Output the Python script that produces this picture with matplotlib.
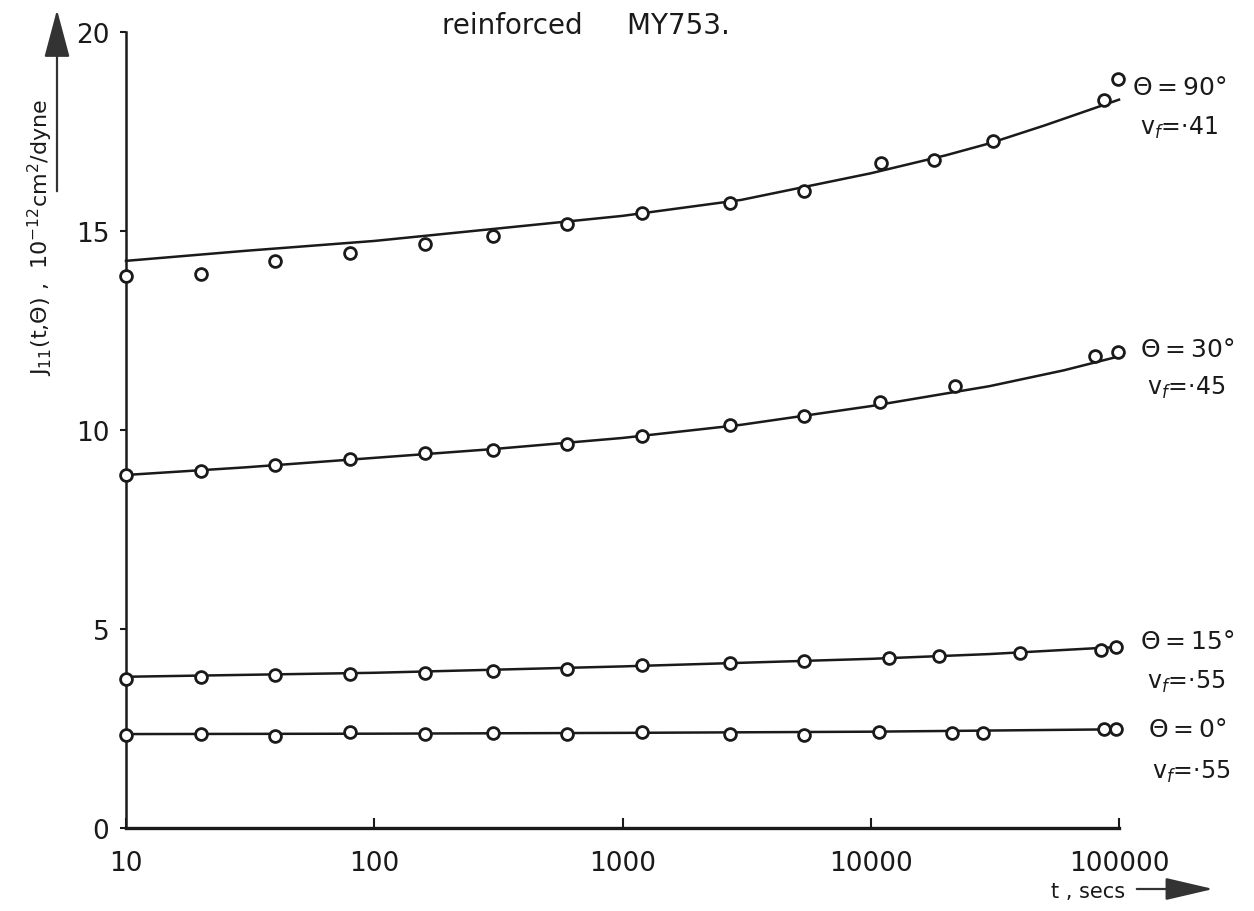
import matplotlib
matplotlib.use("Agg")
import matplotlib.pyplot as plt
from matplotlib.ticker import FixedLocator, FixedFormatter, NullLocator

W, H = 1254, 912

# ---- data ----
t_90 = [10, 20, 40, 80, 160, 300, 600, 1200, 2700, 5400, 11000, 18000, 31000, 87000, 99000]
J_90 = [13.86, 13.92, 14.25, 14.44, 14.67, 14.87, 15.18, 15.45, 15.70, 16.00, 16.72, 16.79, 17.27, 18.29, 18.82]
fit_t_90 = [10, 30, 100, 300, 1000, 3000, 10000, 20000, 30000, 50000, 100000]
fit_J_90 = [14.25, 14.50, 14.75, 15.05, 15.38, 15.78, 16.45, 16.90, 17.20, 17.65, 18.30]

t_30 = [10, 20, 40, 80, 160, 300, 600, 1200, 2700, 5400, 10900, 21800, 80000, 99000]
J_30 = [8.87, 8.96, 9.13, 9.27, 9.41, 9.50, 9.66, 9.84, 10.12, 10.34, 10.71, 11.10, 11.87, 11.97]
fit_t_30 = [10, 30, 100, 300, 1000, 3000, 10000, 30000, 60000, 100000]
fit_J_30 = [8.87, 9.06, 9.30, 9.52, 9.80, 10.13, 10.60, 11.10, 11.50, 11.85]

t_15 = [10, 20, 40, 80, 160, 300, 600, 1200, 2700, 5400, 11800, 18800, 40000, 85000, 97000]
J_15 = [3.74, 3.79, 3.84, 3.87, 3.89, 3.95, 4.00, 4.10, 4.15, 4.20, 4.26, 4.31, 4.40, 4.48, 4.56]
fit_t_15 = [10, 100, 1000, 10000, 30000, 100000]
fit_J_15 = [3.80, 3.90, 4.06, 4.25, 4.37, 4.55]

t_0 = [10, 20, 40, 80, 160, 300, 600, 1200, 2700, 5400, 10800, 21200, 28300, 87000, 97000]
J_0 = [2.34, 2.36, 2.32, 2.40, 2.36, 2.39, 2.37, 2.40, 2.36, 2.34, 2.42, 2.39, 2.39, 2.49, 2.49]
fit_t_0 = [10, 100, 1000, 10000, 100000]
fit_J_0 = [2.36, 2.37, 2.39, 2.42, 2.48]

x_ticks = [10, 100, 1000, 10000, 100000]
x_tick_labels = ["10", "100", "1000", "10000", "100000"]
y_ticks = [0, 5, 10, 15, 20]
y_tick_labels = ["0", "5", "10", "15", "20"]

series_labels = [
    (r"$\Theta=90°$", r"v$_f$=·41"),
    (r"$\Theta=30°$", r"v$_f$=·45"),
    (r"$\Theta=15°$", r"v$_f$=·55"),
    (r"$\Theta=0°$", r"v$_f$=·55"),
]

# ---- figure ----
plt.rcParams['font.family'] = ['DejaVu Sans']
plt.rcParams['mathtext.fontset'] = 'dejavusans'
fig = plt.figure(figsize=(W / 100, H / 100), dpi=100)
fig.patch.set_facecolor("white")
ax = fig.add_axes([126 / W, 83 / H, (1119 - 126) / W, (829 - 33) / H])
ax.set_xscale("log")
ax.set_xlim(10, 100000)
ax.set_ylim(0, 20)

ink = "#1a1a1a"
for tt, jj, ft, fj in [(t_90, J_90, fit_t_90, fit_J_90),
                       (t_30, J_30, fit_t_30, fit_J_30),
                       (t_15, J_15, fit_t_15, fit_J_15),
                       (t_0, J_0, fit_t_0, fit_J_0)]:
    ax.plot(ft, fj, color=ink, lw=1.8, clip_on=False, zorder=2)
    ax.plot(tt, jj, linestyle="none", marker="o", ms=8.5, mfc="white",
            mec=ink, mew=2.0, clip_on=False, zorder=3)

for s in ["top", "right"]:
    ax.spines[s].set_visible(False)
ax.spines["left"].set_linewidth(1.8)
ax.spines["bottom"].set_linewidth(2.4)
ax.spines["left"].set_color(ink)
ax.spines["bottom"].set_color(ink)

ax.xaxis.set_major_locator(FixedLocator(x_ticks))
ax.xaxis.set_major_formatter(FixedFormatter(x_tick_labels))
ax.xaxis.set_minor_locator(NullLocator())
ax.yaxis.set_major_locator(FixedLocator(y_ticks))
ax.yaxis.set_major_formatter(FixedFormatter(y_tick_labels))
ax.yaxis.set_minor_locator(NullLocator())
ax.tick_params(axis="x", direction="in", length=7, width=1.5, pad=16,
               labelsize=19, colors=ink)
ax.tick_params(axis="y", direction="out", length=4, width=1.5, pad=8,
               labelsize=19, colors=ink)

# title fragment
fig.text(586 / W, 1 - 26 / H, "reinforced     MY753.", ha="center", va="center",
         fontsize=20, color=ink)

# y axis label and arrow
fig.text(40 / W, 1 - 237 / H,
         r"J$_{11}$(t,$\Theta$) ,  10$^{-12}$cm$^{2}$/dyne",
         rotation=90, ha="center", va="center", fontsize=16, color=ink)
fig.patches.append(matplotlib.patches.FancyArrowPatch(
    (57 / W, 1 - 195 / H), (57 / W, 1 - 8 / H), transform=fig.transFigure,
    arrowstyle="-|>,head_length=15,head_width=4", mutation_scale=2.0,
    color="#333333", lw=1.6))

# x axis label and arrow
fig.text(1088 / W, 1 - 892 / H, "t , secs", ha="center", va="center",
         fontsize=15, color=ink)
fig.patches.append(matplotlib.patches.FancyArrowPatch(
    (1134 / W, 1 - 890 / H), (1216 / W, 1 - 890 / H), transform=fig.transFigure,
    arrowstyle="-|>,head_length=15,head_width=3.5", mutation_scale=2.0,
    color="#333333", lw=1.6))

# series annotations
label_pos = [(1132, 88, 1140, 128), (1140, 350, 1147, 388),
             (1140, 642, 1147, 682), (1148, 730, 1152, 772)]
for (theta, vf), (xt, yt, xv, yv) in zip(series_labels, label_pos):
    fig.text(xt / W, 1 - yt / H, theta, ha="left", va="center", fontsize=18, color=ink)
    fig.text(xv / W, 1 - yv / H, vf, ha="left", va="center", fontsize=17, color=ink)

fig.savefig("out.png", dpi=100, facecolor="white")
